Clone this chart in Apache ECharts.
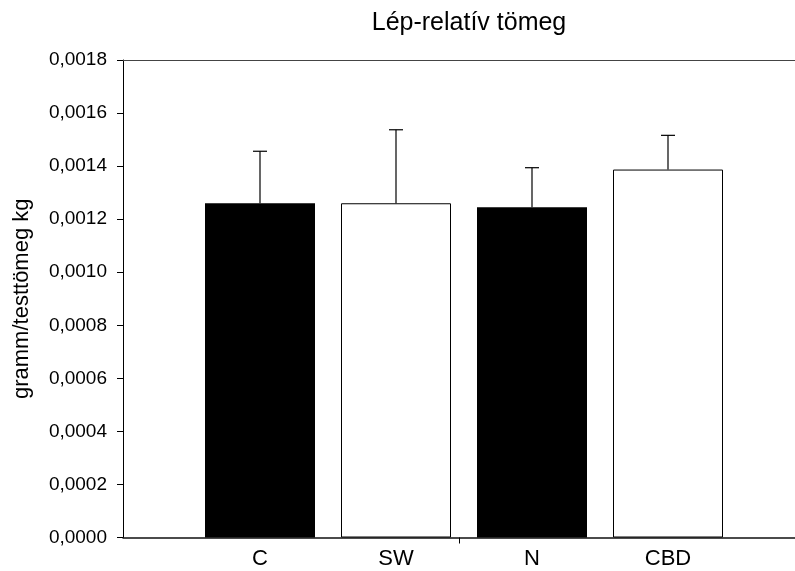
<!DOCTYPE html>
<html>
<head>
<meta charset="utf-8">
<script src="https://cdn.jsdelivr.net/npm/echarts@6/dist/echarts.min.js"></script>
<style>
  html, body { margin: 0; padding: 0; background: #fff; }
  #chart { width: 795px; height: 571px; }
</style>
</head>
<body>
<div id="chart"></div>
<script>
const categories = ["C", "SW", "N", "CBD"];
const means = [0.00126, 0.00126, 0.001245, 0.001387];
const errorUpper = [0.001456, 0.001537, 0.001394, 0.001516];

const FONT = "Liberation Sans";
const barFills = ["#000000", "#ffffff", "#000000", "#ffffff"];

const chart = echarts.init(document.getElementById("chart"));

const fmt = (v) => v.toFixed(4).replace(".", ",");

chart.setOption({
  animation: false,
  backgroundColor: "#fff",
  textStyle: { fontFamily: FONT },
  title: {
    text: "Lép-relatív tömeg",
    left: 464,
    top: 6,
    textAlign: "center",
    textStyle: { fontFamily: FONT, fontSize: 25, fontWeight: "normal", color: "#000" },
  },
  grid: [
    // bars
    { left: 192, right: 59, top: 60, bottom: 33.5 },
    // axis frame
    { left: 123, right: -10, top: 60, bottom: 33.5 },
  ],
  xAxis: [
    {
      gridIndex: 0,
      type: "category",
      data: categories,
      axisLine: { show: false },
      axisTick: { show: false },
      axisLabel: { fontFamily: FONT, fontSize: 22, color: "#000", margin: 10 },
    },
    {
      gridIndex: 1,
      type: "category",
      data: [""],
      boundaryGap: true,
      axisLine: { show: true, lineStyle: { color: "#111", width: 1.5 } },
      axisTick: { show: true, alignWithLabel: true, length: 6, lineStyle: { color: "#000" } },
      axisLabel: { show: false },
    },
    {
      gridIndex: 1,
      type: "category",
      position: "top",
      data: [""],
      axisLine: { show: true, lineStyle: { color: "#444", width: 1 } },
      axisTick: { show: false },
      axisLabel: { show: false },
    },
  ],
  yAxis: [
    {
      gridIndex: 0,
      type: "value",
      min: 0,
      max: 0.0018,
      show: false,
    },
    {
      gridIndex: 1,
      type: "value",
      min: 0,
      max: 0.0018,
      interval: 0.0002,
      name: "gramm/testtömeg kg",
      nameLocation: "middle",
      nameGap: 90,
      nameTextStyle: { fontFamily: FONT, fontSize: 22, color: "#000" },
      axisLine: { show: true, lineStyle: { color: "#000", width: 1 } },
      axisTick: { show: true, length: 6, lineStyle: { color: "#000" } },
      axisLabel: { fontFamily: FONT, fontSize: 19, color: "#000", margin: 16, formatter: fmt },
      splitLine: { show: false },
    },
  ],
  series: [
    {
      type: "bar",
      xAxisIndex: 0,
      yAxisIndex: 0,
      barWidth: 110,
      data: means.map((v, i) => ({
        value: v,
        itemStyle: {
          color: barFills[i],
          borderColor: "#000",
          borderWidth: barFills[i] === "#ffffff" ? 1 : 0,
        },
      })),
    },
    {
      type: "custom",
      xAxisIndex: 0,
      yAxisIndex: 0,
      data: means.map((v, i) => [i, v, errorUpper[i]]),
      renderItem(params, api) {
        const base = api.coord([api.value(0), api.value(1)]);
        const top = api.coord([api.value(0), api.value(2)]);
        const cap = 7;
        const style = { stroke: "#000", lineWidth: 1.2 };
        return {
          type: "group",
          children: [
            { type: "line", shape: { x1: base[0], y1: base[1], x2: top[0], y2: top[1] }, style },
            { type: "line", shape: { x1: top[0] - cap, y1: top[1], x2: top[0] + cap, y2: top[1] }, style },
          ],
        };
      },
      z: 3,
    },
  ],
});
</script>
</body>
</html>
